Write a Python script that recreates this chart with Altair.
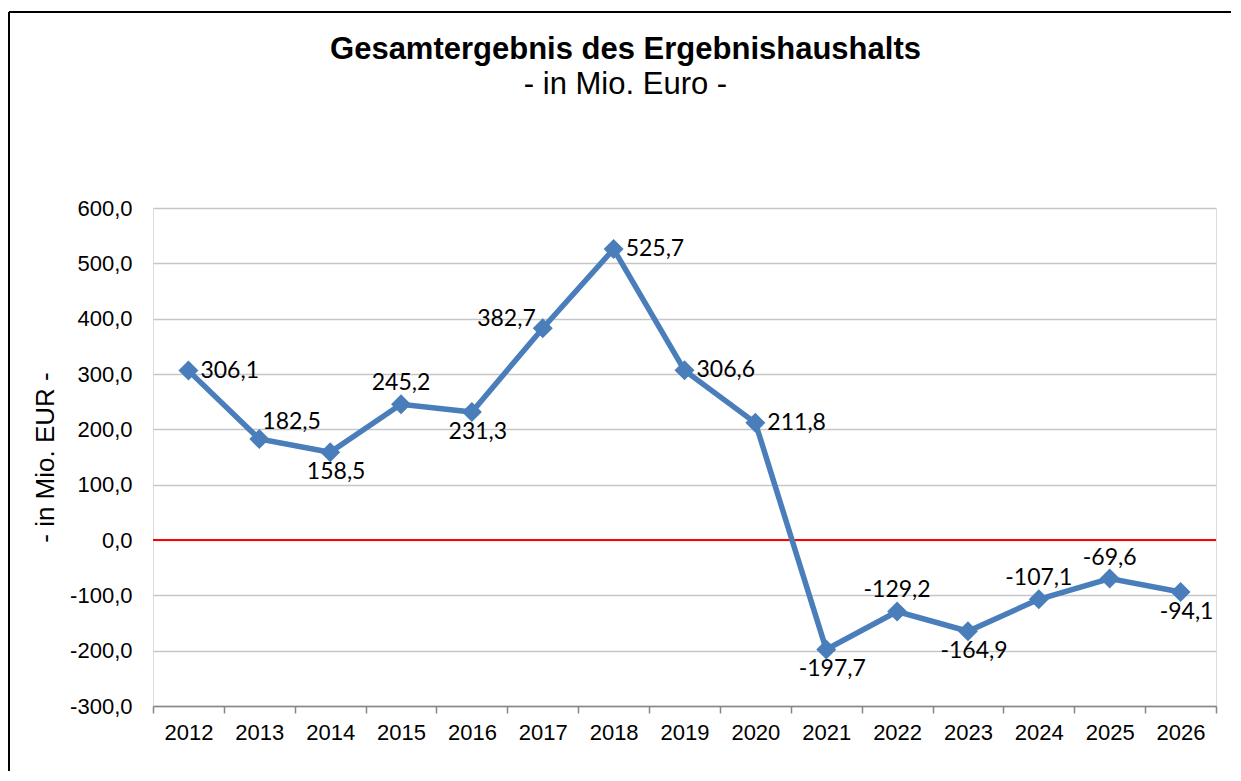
import altair as alt
import pandas as pd

years = [str(y) for y in range(2012, 2027)]
values = [306.1, 182.5, 158.5, 245.2, 231.3, 382.7, 525.7, 306.6, 211.8,
          -197.7, -129.2, -164.9, -107.1, -69.6, -94.1]
label_pos = ["right", "above_right", "below", "above", "below", "left", "right", "right", "right",
             "below", "above", "below", "above", "above", "below"]
y_ticks = [-300, -200, -100, 0, 100, 200, 300, 400, 500, 600]

df = pd.DataFrame({"year": years, "value": values, "pos": label_pos})

W, H = 1063, 498
BLUE = "#4A7EBB"
AX_FONT = "Liberation Sans"
LBL_FONT = "Lato"

base = alt.Chart(df).transform_calculate(
    label="replace(replace(format(datum.value, '.1f'), '.', ','), '\u2212', '-')"
)

xenc = alt.X("year:N", sort=years,
             scale=alt.Scale(type="band", paddingInner=0, paddingOuter=0),
             axis=alt.Axis(title=None, tickBand="extent", grid=False, domain=True,
                           domainColor="#868686", domainWidth=1.5, ticks=True,
                           tickColor="#868686", tickWidth=1.5, tickSize=7,
                           labelFont=AX_FONT, labelFontSize=22, labelColor="#000000",
                           labelPadding=9, labelAngle=0))
yenc = alt.Y("value:Q",
             scale=alt.Scale(domain=[-300, 600], nice=False, zero=False),
             axis=alt.Axis(title="- in Mio. EUR -", values=y_ticks, grid=True,
                           gridColor="#C6C6C6", gridWidth=1.5, domain=False, ticks=False,
                           labelFont=AX_FONT, labelFontSize=22, labelColor="#000000",
                           labelPadding=21,
                           labelExpr="replace(replace(format(datum.value, '.1f'), '.', ','), '\u2212', '-')",
                           titleFont=AX_FONT, titleFontSize=26, titleFontWeight="normal",
                           titleColor="#000000", titlePadding=11))

zero = alt.Chart(pd.DataFrame({"z": [0]})).mark_rule(color="#FF0000", strokeWidth=2).encode(
    y=alt.Y("z:Q", scale=alt.Scale(domain=[-300, 600], nice=False, zero=False))
)

line = base.mark_line(color=BLUE, strokeWidth=5.5).encode(x=xenc, y=yenc)
pts = base.mark_point(shape="diamond", filled=True, color=BLUE, size=400, opacity=1).encode(x=xenc, y=yenc)

offsets = {
    "right": dict(align="left", dx=12, dy=0),
    "above_right": dict(align="left", dx=3, dy=-17),
    "below": dict(align="center", dx=6, dy=20),
    "above": dict(align="center", dx=0, dy=-21),
    "left": dict(align="right", dx=-7, dy=-9),
}
label_layers = []
for p, o in offsets.items():
    label_layers.append(
        base.transform_filter(alt.datum.pos == p).mark_text(
            font=LBL_FONT, fontSize=23, color="#000000", baseline="middle", **o
        ).encode(x=xenc, y=yenc, text="label:N")
    )

frame_df = pd.DataFrame({"a": [0]})
border_top = alt.Chart(frame_df).mark_rule(color="#000000", strokeWidth=2).encode(
    x=alt.value(-144), x2=alt.value(1078), y=alt.value(-196))
border_left = alt.Chart(frame_df).mark_rule(color="#000000", strokeWidth=2).encode(
    x=alt.value(-144), y=alt.value(-196), y2=alt.value(640))

chart = alt.layer(zero, line, pts, *label_layers, border_top, border_left).properties(
    width=W, height=H,
    title=alt.TitleParams(
        text="Gesamtergebnis des Ergebnishaushalts",
        subtitle="- in Mio. Euro -",
        anchor="middle", frame="group", dx=-59, offset=-90,
        font=AX_FONT, fontSize=31, fontWeight="bold", color="#000000",
        subtitleFont=AX_FONT, subtitleFontSize=31, subtitleColor="#000000",
        subtitlePadding=4,
    ),
    padding={"left": 145, "top": 200, "right": 17, "bottom": 65},
    autosize=alt.AutoSizeParams(type="none"),
).configure_view(stroke=None).configure(background="#FFFFFF")

chart.save("out.html", embed_options={"renderer": "svg", "actions": False})
